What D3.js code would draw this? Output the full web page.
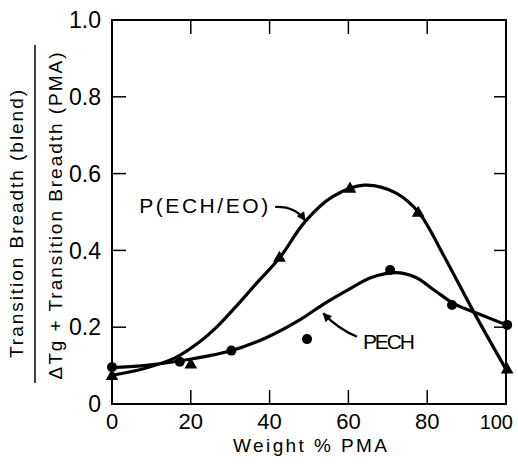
<!DOCTYPE html>
<html>
<head>
<meta charset="utf-8">
<script src="https://cdn.jsdelivr.net/npm/d3@7"></script>
<style>
  html, body { margin: 0; padding: 0; background: #fff; }
  svg { display: block; }
  text { font-family: "Liberation Sans", Arial, sans-serif; fill: #000; }
</style>
</head>
<body>
<script>
// ---- data ----
const xTicks = [0, 20, 40, 60, 80, 100];
const yTicks = [0, 0.2, 0.4, 0.6, 0.8, 1.0];
const yTickLabels = ["0", "0.2", "0.4", "0.6", "0.8", "1.0"];

// P(ECH/EO) measured points (triangles)
const echX = [0, 20, 42.5, 60.4, 77.7, 100.3];
const echY = [0.072, 0.102, 0.38, 0.56, 0.497, 0.089];
// PECH measured points (circles)
const pechX = [0, 17.2, 30.3, 49.5, 70.6, 86.3, 100.3];
const pechY = [0.096, 0.11, 0.139, 0.169, 0.349, 0.258, 0.206];

// hand-drawn smooth curves
const echFitX = [0, 8, 16, 22, 27, 32, 37, 42.5, 49, 56, 64, 72, 78, 84, 92, 100.3];
const echFitY = [0.075, 0.092, 0.12, 0.16, 0.205, 0.26, 0.318, 0.38, 0.475, 0.54, 0.57, 0.55, 0.497, 0.39, 0.236, 0.085];
const pechFitX = [0, 8, 17, 30, 39, 47, 54, 60, 66, 72, 77, 82, 87, 93, 100.3];
const pechFitY = [0.095, 0.1, 0.112, 0.138, 0.172, 0.215, 0.262, 0.298, 0.33, 0.342, 0.33, 0.295, 0.26, 0.235, 0.205];

const xLabel = "Weight % PMA";
const yLabelTop = "Transition Breadth (blend)";
const yLabelBottom = "\u0394Tg + Transition Breadth (PMA)";
const seriesLabels = ["P(ECH/EO)", "PECH"];

// ---- layout ----
const W = 518, H = 466;
const m = {left: 112, right: 12, top: 20, bottom: 62};
const x = d3.scaleLinear().domain([0, 100]).range([m.left, W - m.right]);
const y = d3.scaleLinear().domain([0, 1]).range([H - m.bottom, m.top]);

const svg = d3.select("body").append("svg").attr("width", W).attr("height", H);

// frame
svg.append("rect")
  .attr("x", x(0)).attr("y", y(1))
  .attr("width", x(100) - x(0)).attr("height", y(0) - y(1))
  .attr("fill", "none").attr("stroke", "#000").attr("stroke-width", 2);

const inner = xTicks.filter(d => d > 0 && d < 100);
const innerY = yTicks.filter(d => d > 0 && d < 1);
const tk = 14;
svg.append("g").selectAll("line").data(inner).join("line")
  .attr("x1", d => x(d)).attr("x2", d => x(d))
  .attr("y1", y(0)).attr("y2", y(0) - tk)
  .attr("stroke", "#000").attr("stroke-width", 1.5);
svg.append("g").selectAll("line").data(inner).join("line")
  .attr("x1", d => x(d)).attr("x2", d => x(d))
  .attr("y1", y(1)).attr("y2", y(1) + tk)
  .attr("stroke", "#000").attr("stroke-width", 1.5);
svg.append("g").selectAll("line").data(innerY).join("line")
  .attr("x1", x(0)).attr("x2", x(0) + tk)
  .attr("y1", d => y(d)).attr("y2", d => y(d))
  .attr("stroke", "#000").attr("stroke-width", 1.5);
svg.append("g").selectAll("line").data(innerY).join("line")
  .attr("x1", x(100)).attr("x2", x(100) - 12)
  .attr("y1", d => y(d)).attr("y2", d => y(d))
  .attr("stroke", "#000").attr("stroke-width", 1.5);

// tick labels
svg.append("g").selectAll("text").data(xTicks).join("text")
  .attr("x", d => d === 100 ? 513 : x(d))
  .attr("y", y(0) + 25)
  .attr("text-anchor", d => d === 100 ? "end" : "middle")
  .attr("font-size", d => d === 100 ? 20 : 22)
  .text(d => d);
svg.append("g").selectAll("text").data(yTicks).join("text")
  .attr("x", x(0) - 11).attr("y", d => y(d)).attr("dy", "0.36em")
  .attr("text-anchor", "end").attr("font-size", 23)
  .text((d, i) => yTickLabels[i]);

// axis titles
svg.append("text")
  .attr("x", 310).attr("y", 452)
  .attr("text-anchor", "middle").attr("font-size", 19)
  .attr("textLength", 154).attr("lengthAdjust", "spacing")
  .text(xLabel);

svg.append("text")
  .attr("transform", "translate(23,224) rotate(-90)")
  .attr("text-anchor", "middle").attr("font-size", 19)
  .attr("textLength", 268).attr("lengthAdjust", "spacing")
  .text(yLabelTop);
svg.append("line")
  .attr("x1", 35).attr("x2", 35).attr("y1", 45).attr("y2", 383)
  .attr("stroke", "#000").attr("stroke-width", 1.5);
svg.append("text")
  .attr("transform", "translate(62,216) rotate(-90)")
  .attr("text-anchor", "middle").attr("font-size", 19)
  .attr("textLength", 327).attr("lengthAdjust", "spacing")
  .text(yLabelBottom);

// curves
const line = d3.line().x(d => x(d[0])).y(d => y(d[1])).curve(d3.curveCatmullRom.alpha(0.5));
svg.append("path")
  .attr("d", line(echFitX.map((v, i) => [v, echFitY[i]])))
  .attr("fill", "none").attr("stroke", "#000").attr("stroke-width", 3.2);
svg.append("path")
  .attr("d", line(pechFitX.map((v, i) => [v, pechFitY[i]])))
  .attr("fill", "none").attr("stroke", "#000").attr("stroke-width", 3.2);

// markers
const tri = d3.symbol().type(d3.symbolTriangle).size(70);
svg.append("g").selectAll("path").data(echX.map((v, i) => [v, echY[i]])).join("path")
  .attr("d", tri)
  .attr("transform", d => `translate(${x(d[0])},${y(d[1])})`)
  .attr("fill", "#000");
svg.append("g").selectAll("circle").data(pechX.map((v, i) => [v, pechY[i]])).join("circle")
  .attr("cx", d => x(d[0])).attr("cy", d => y(d[1])).attr("r", 5)
  .attr("fill", "#000");

// annotation labels and arrows
svg.append("defs").append("marker")
  .attr("id", "ah").attr("viewBox", "0 0 10 10")
  .attr("refX", 9).attr("refY", 5)
  .attr("markerWidth", 11).attr("markerHeight", 9)
  .attr("markerUnits", "userSpaceOnUse")
  .attr("orient", "auto")
  .append("path").attr("d", "M0,0 L10,5 L0,10 Z").attr("fill", "#000");

svg.append("text")
  .attr("x", x(6.9)).attr("y", y(0.497))
  .attr("font-size", 21)
  .attr("textLength", 129).attr("lengthAdjust", "spacing")
  .text(seriesLabels[0]);
svg.append("path")
  .attr("d", `M${x(41.4)},${y(0.513)} Q${x(46.5)},${y(0.515)} ${x(49)},${y(0.478)}`)
  .attr("fill", "none").attr("stroke", "#000").attr("stroke-width", 2.2)
  .attr("marker-end", "url(#ah)");

svg.append("text")
  .attr("x", x(63.7)).attr("y", y(0.143))
  .attr("font-size", 21)
  .attr("textLength", 52).attr("lengthAdjust", "spacing")
  .text(seriesLabels[1]);
svg.append("path")
  .attr("d", `M${x(62.2)},${y(0.175)} Q${x(57.5)},${y(0.195)} ${x(53.6)},${y(0.236)}`)
  .attr("fill", "none").attr("stroke", "#000").attr("stroke-width", 2.2)
  .attr("marker-end", "url(#ah)");
</script>
</body>
</html>
